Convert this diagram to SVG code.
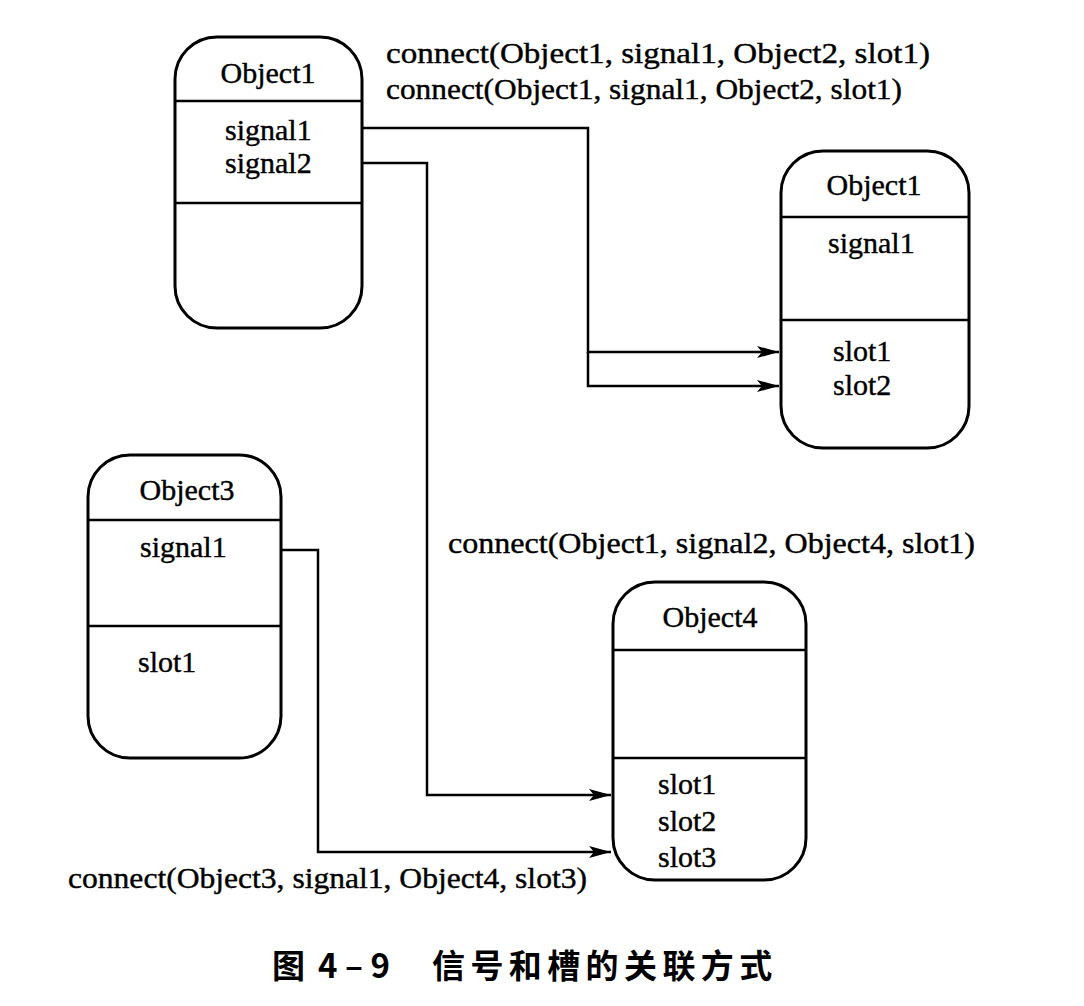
<svg xmlns="http://www.w3.org/2000/svg" width="1084" height="1006" viewBox="0 0 1084 1006">
<defs>
<style>
.box{fill:#fff;stroke:#000;stroke-width:3}
.div{stroke:#000;stroke-width:2.5}
.t{font-family:"Liberation Serif","Times New Roman",serif;font-size:30px;fill:#000;stroke:#000;stroke-width:0.4}
.c{text-anchor:middle}
.wire{fill:none;stroke:#000;stroke-width:2.5}
.cap{font-family:"Noto Sans CJK SC","Liberation Sans",sans-serif;font-size:33px;font-weight:bold;fill:#000}
</style>
<marker id="ah" viewBox="0 0 22 12" refX="22" refY="6" markerWidth="22" markerHeight="12" markerUnits="userSpaceOnUse" orient="auto">
<path d="M0,0 L22,6 L0,12 L5,6 Z" fill="#000"/>
</marker>
</defs>
<rect width="1084" height="1006" fill="#fff"/>
<g id="object1-left">
<rect class="box" x="175" y="37" width="187" height="291" rx="42"/>
<line class="div" x1="175" y1="101" x2="362" y2="101"/>
<line class="div" x1="175" y1="203" x2="362" y2="203"/>
<text class="t c" x="268" y="83">Object1</text>
<text class="t" x="225" y="140">signal1</text>
<text class="t" x="225" y="173">signal2</text>
</g>
<g id="object1-right">
<rect class="box" x="781" y="151" width="188" height="297" rx="42"/>
<line class="div" x1="781" y1="217" x2="969" y2="217"/>
<line class="div" x1="781" y1="320" x2="969" y2="320"/>
<text class="t c" x="874" y="195">Object1</text>
<text class="t" x="828" y="253">signal1</text>
<text class="t" x="833" y="361">slot1</text>
<text class="t" x="833" y="395">slot2</text>
</g>
<g id="object3">
<rect class="box" x="88" y="455" width="193" height="303" rx="42"/>
<line class="div" x1="88" y1="520" x2="281" y2="520"/>
<line class="div" x1="88" y1="626" x2="281" y2="626"/>
<text class="t c" x="187" y="500">Object3</text>
<text class="t" x="140" y="557">signal1</text>
<text class="t" x="138" y="672">slot1</text>
</g>
<g id="object4">
<rect class="box" x="613" y="582" width="193" height="298" rx="42"/>
<line class="div" x1="613" y1="650" x2="806" y2="650"/>
<line class="div" x1="613" y1="758" x2="806" y2="758"/>
<text class="t c" x="710" y="627">Object4</text>
<text class="t" x="658" y="794">slot1</text>
<text class="t" x="658" y="831">slot2</text>
<text class="t" x="658" y="867">slot3</text>
</g>
<g id="connectors">
<path class="wire" d="M362,128 H588 V352 H779" marker-end="url(#ah)"/>
<path class="wire" d="M588,352 V386 H779" marker-end="url(#ah)"/>
<path class="wire" d="M362,163 H427 V795 H611" marker-end="url(#ah)"/>
<path class="wire" d="M281,550 H318 V852 H611" marker-end="url(#ah)"/>
</g>
<g id="labels">
<text class="t" x="386" y="63" textLength="544" lengthAdjust="spacingAndGlyphs">connect(Object1, signal1, Object2, slot1)</text>
<text class="t" x="386" y="99" textLength="516" lengthAdjust="spacingAndGlyphs">connect(Object1, signal1, Object2, slot1)</text>
<text class="t" x="448" y="553" textLength="527" lengthAdjust="spacingAndGlyphs">connect(Object1, signal2, Object4, slot1)</text>
<text class="t" x="68" y="888" textLength="519" lengthAdjust="spacingAndGlyphs">connect(Object3, signal1, Object4, slot3)</text>
</g>
<g id="caption">
<text class="cap" x="272" y="978">图</text>
<text class="cap" x="318" y="978" font-family="Liberation Sans,sans-serif">4 – 9</text>
<text class="cap" x="432" y="978" letter-spacing="5.4">信号和槽的关联方式</text>
</g>
</svg>
